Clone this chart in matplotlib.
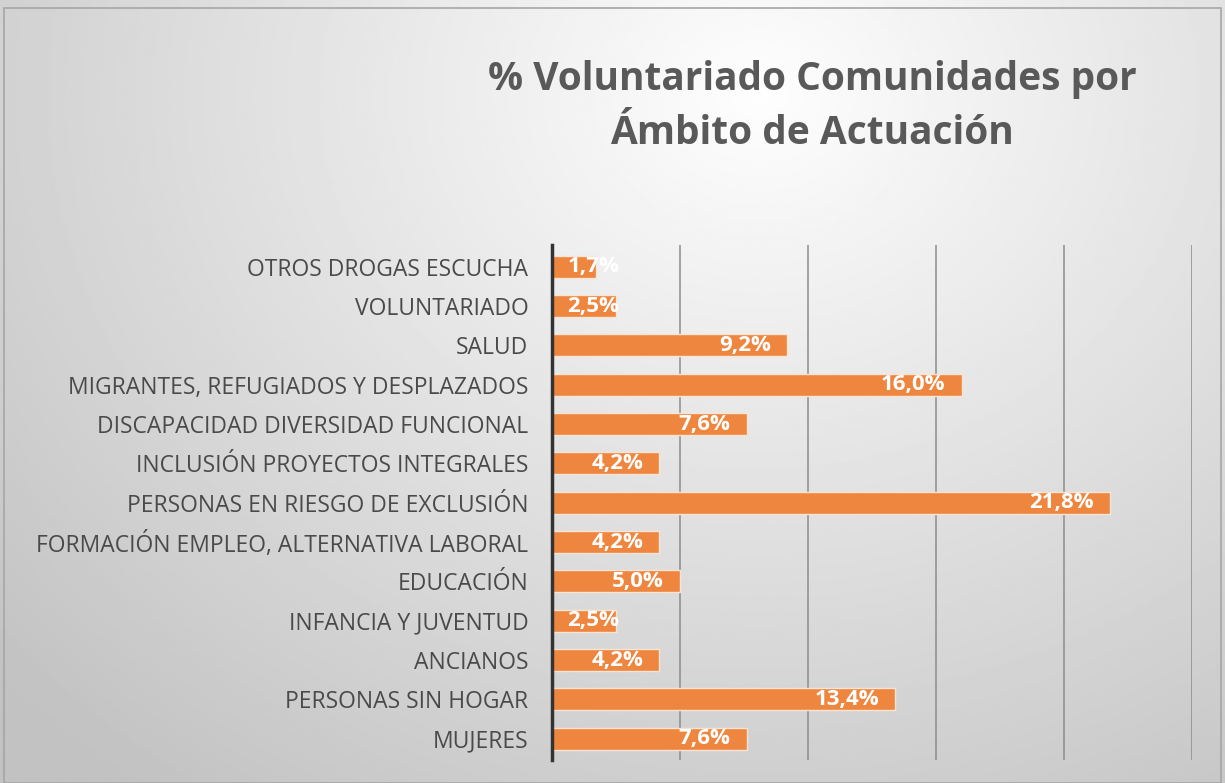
import numpy as np
import matplotlib.pyplot as plt
from matplotlib.patches import Rectangle

# Data (bottom to top, as drawn)
categories = [
    "MUJERES",
    "PERSONAS SIN HOGAR",
    "ANCIANOS",
    "INFANCIA Y JUVENTUD",
    "EDUCACIÓN",
    "FORMACIÓN EMPLEO, ALTERNATIVA LABORAL",
    "PERSONAS EN RIESGO DE EXCLUSIÓN",
    "INCLUSIÓN PROYECTOS INTEGRALES",
    "DISCAPACIDAD DIVERSIDAD FUNCIONAL",
    "MIGRANTES, REFUGIADOS Y DESPLAZADOS",
    "SALUD",
    "VOLUNTARIADO",
    "OTROS DROGAS ESCUCHA",
]
values = [7.6, 13.4, 4.2, 2.5, 5.0, 4.2, 21.8, 4.2, 7.6, 16.0, 9.2, 2.5, 1.7]
x_ticks = [0, 5, 10, 15, 20, 25]

plt.rcParams['font.family'] = ['Open Sans', 'DejaVu Sans']

fig = plt.figure(figsize=(12.25, 7.83), dpi=100)

# Background gradient (light centre near the title, grey toward the edges)
bg = fig.add_axes([0, 0, 1, 1], zorder=-10)
gx, gy = np.meshgrid(np.linspace(0, 1, 400), np.linspace(0, 1, 300))
d = np.sqrt(((gx - 0.62) / 0.75) ** 2 + ((gy - 0.88) / 1.0) ** 2)
shade = np.clip(0.995 - 0.21 * d, 0.76, 1.0)
bg.imshow(shade, cmap='gray', vmin=0, vmax=1, extent=[0, 1, 0, 1],
          origin='lower', aspect='auto')
bg.set_axis_off()
fig.patches.append(Rectangle((0.003, 0.0), 0.994, 0.99, transform=fig.transFigure,
                             fill=False, edgecolor='#a6a6a6', linewidth=1.2))

ax = fig.add_axes([0.4506, 0.029, 0.5224, 0.658])
ax.patch.set_alpha(0)

y = np.arange(len(categories))
ax.barh(y, values, height=0.56, color='#EE8640', edgecolor='#FCE4D2',
        linewidth=1, zorder=3)

for yi, v in zip(y, values):
    label = f"{v:.1f}%".replace('.', ',')
    if v < 3.5:
        ax.text(0.6, yi, label, ha='left', va='center', color='white',
                fontsize=16, fontweight='bold', zorder=4)
    else:
        ax.text(v - 0.62, yi, label, ha='right', va='center', color='white',
                fontsize=16, fontweight='bold', zorder=4)

ax.set_xlim(0, 25)
ax.set_ylim(-0.55, len(categories) - 0.45)
ax.set_xticks(x_ticks)
ax.set_xticklabels([])
ax.tick_params(axis='x', length=0)
ax.tick_params(axis='y', length=0, pad=17, labelsize=16.5, labelcolor='#4a4a4a')
ax.set_yticks(y)
ax.set_yticklabels(categories)
ax.grid(axis='x', color='#8c8c8c', linewidth=1.1, zorder=0)
for s in ['top', 'right', 'bottom']:
    ax.spines[s].set_visible(False)
ax.spines['left'].set_color('#333333')
ax.spines['left'].set_linewidth(2.5)
ax.spines['left'].set_zorder(5)

fig.text(0.663, 0.899, "% Voluntariado Comunidades por", ha='center', va='center',
         fontsize=28, fontweight='bold', color='#595959')
fig.text(0.663, 0.830, "Ámbito de Actuación", ha='center', va='center',
         fontsize=28, fontweight='bold', color='#595959')

fig.savefig("out.png", dpi=100)
